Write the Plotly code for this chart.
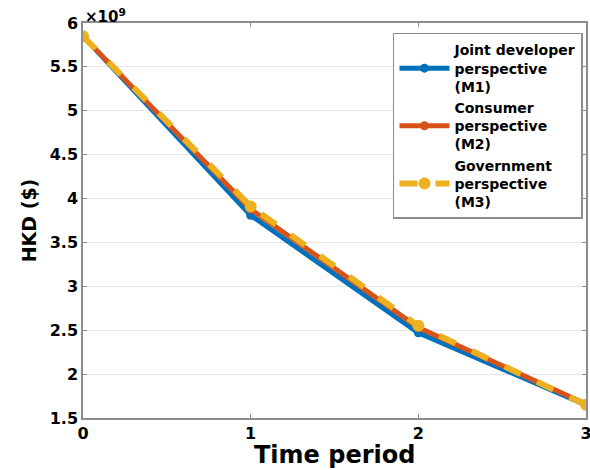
import plotly.graph_objects as go

# Time periods and objective values (HKD) for each perspective
periods = [0, 1, 2, 3]
joint_developer_m1 = [5.85e9, 3.81e9, 2.47e9, 1.65e9]
consumer_m2 = [5.85e9, 3.88e9, 2.53e9, 1.66e9]
government_m3 = [5.85e9, 3.91e9, 2.55e9, 1.65e9]

series_names = [
    "Joint developer<br>perspective<br>(M1)",
    "Consumer<br>perspective<br>(M2)",
    "Government<br>perspective<br>(M3)",
]

y_tick_vals = [1.5e9, 2e9, 2.5e9, 3e9, 3.5e9, 4e9, 4.5e9, 5e9, 5.5e9, 6e9]
y_tick_text = ["1.5", "2", "2.5", "3", "3.5", "4", "4.5", "5", "5.5", "6"]
x_tick_vals = [0, 1, 2, 3]

FONT = "DejaVu Sans"
BLUE = "#0072BD"
ORANGE = "#D95319"
YELLOW = "#EDB120"

fig = go.Figure()
fig.add_trace(go.Scatter(
    x=periods, y=joint_developer_m1, name=series_names[0], mode="lines+markers",
    line=dict(color=BLUE, width=5), marker=dict(color=BLUE, size=9, symbol="circle"),
))
fig.add_trace(go.Scatter(
    x=periods, y=consumer_m2, name=series_names[1], mode="lines+markers",
    line=dict(color=ORANGE, width=5), marker=dict(color=ORANGE, size=9, symbol="circle"),
))
fig.add_trace(go.Scatter(
    x=periods, y=government_m3, name=series_names[2], mode="lines+markers",
    line=dict(color=YELLOW, width=6, dash="dash"),
    marker=dict(color=YELLOW, size=12, symbol="circle"),
))

axis_common = dict(
    showline=True, linecolor="#8c8c8c", linewidth=1.5, mirror="ticks",
    ticks="inside", ticklen=4, tickcolor="#8c8c8c",
    tickfont=dict(family=FONT, size=16, color="black", weight="bold"),
    zeroline=False, automargin=False, ticklabeloverflow="allow",
)

fig.update_xaxes(
    range=[0, 3], tickvals=x_tick_vals, showgrid=False,
    **axis_common,
)
fig.update_yaxes(
    range=[1.5e9, 6e9], tickvals=y_tick_vals, ticktext=y_tick_text,
    showgrid=True, gridcolor="#e6e6e6", gridwidth=1,
    title=dict(text="HKD ($)", standoff=8,
               font=dict(family=FONT, size=19, color="black", weight="bold")),
    **axis_common,
)

# x-axis title placed as an annotation so it can sit low under the tick labels
fig.add_annotation(
    xref="paper", yref="paper", x=0.5, y=0, xanchor="center", yanchor="top",
    text="Time period", showarrow=False, yshift=-21,
    font=dict(family=FONT, size=24, color="black", weight="bold"),
)

fig.add_annotation(
    xref="paper", yref="paper", x=0.0, y=1.0, xanchor="left", yanchor="bottom",
    text="×10<sup>9</sup>", showarrow=False, xshift=0, yshift=-5,
    font=dict(family=FONT, size=15, color="black", weight="bold"),
)

fig.update_layout(
    width=590, height=470,
    margin=dict(l=83, r=4, t=23, b=52),
    paper_bgcolor="white", plot_bgcolor="white",
    showlegend=True,
    legend=dict(
        x=0.994, y=0.975, xanchor="right", yanchor="top",
        bgcolor="white", bordercolor="#8c8c8c", borderwidth=1.5,
        font=dict(family=FONT, size=14, color="black", weight="bold"),
        tracegroupgap=0, itemwidth=50, valign="middle",
    ),
)

fig.write_html("out.html")
